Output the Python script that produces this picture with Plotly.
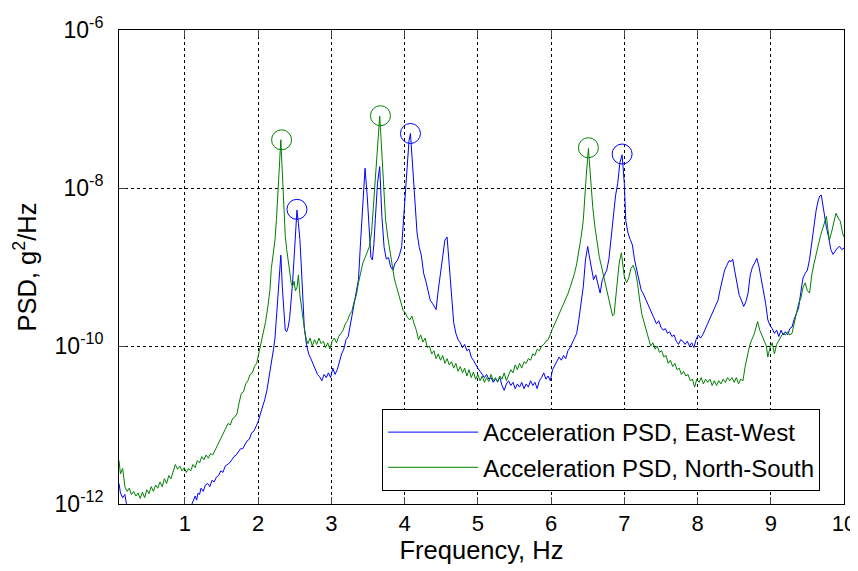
import plotly.graph_objects as go

# ---------------- data (log10 of PSD, g^2/Hz) ----------------
ns_freq = [0.10,0.12,0.15,0.18,0.21,0.24,0.27,0.30,0.33,0.36,0.39,0.42,0.45,0.48,0.51,0.54,0.57,0.60,0.63,0.66,
           0.69,0.72,0.75,0.78,0.81,0.84,0.87,0.90,0.93,0.96,0.99,1.02,1.05,1.08,1.11,1.14,1.17,1.20,1.23,1.26,
           1.29,1.32,1.35,1.38,1.41,1.44,1.47,1.50,1.53,1.56,1.59,1.62,1.65,1.68,1.71,1.74,1.77,1.80,1.83,1.86,
           1.89,1.92,1.95,1.98,2.01,2.04,2.07,2.10,2.13,2.16,2.18,2.20,2.23,2.25,2.27,2.29,2.31,2.33,2.35,2.37,
           2.39,2.41,2.43,2.45,2.47,2.49,2.51,2.53,2.55,2.57,2.60,2.62,2.64,2.66,2.68,2.71,2.74,2.77,2.80,2.83,
           2.86,2.89,2.92,2.95,2.98,3.01,3.04,3.07,3.10,3.13,3.16,3.19,3.22,3.25,3.28,3.31,3.34,3.37,3.40,3.43,
           3.46,3.49,3.52,3.55,3.57,3.59,3.61,3.64,3.66,3.68,3.70,3.72,3.74,3.77,3.80,3.83,3.86,3.89,3.92,3.95,
           3.98,4.01,4.04,4.07,4.10,4.13,4.16,4.19,4.22,4.25,4.28,4.31,4.34,4.37,4.40,4.43,4.46,4.49,4.52,4.55,
           4.58,4.61,4.64,4.67,4.70,4.73,4.76,4.79,4.82,4.85,4.88,4.91,4.94,4.97,5.00,5.03,5.06,5.09,5.12,5.15,
           5.18,5.21,5.24,5.27,5.30,5.33,5.36,5.39,5.42,5.45,5.48,5.51,5.54,5.57,5.60,5.63,5.66,5.69,5.72,5.75,
           5.78,5.81,5.84,5.87,5.90,5.93,5.96,5.99,6.02,6.05,6.08,6.11,6.14,6.17,6.20,6.23,6.26,6.29,6.32,6.35,
           6.38,6.41,6.44,6.46,6.48,6.51,6.53,6.55,6.57,6.60,6.63,6.66,6.69,6.72,6.75,6.78,6.81,6.84,6.86,6.88,
           6.91,6.93,6.96,6.98,7.00,7.03,7.06,7.09,7.12,7.15,7.18,7.21,7.24,7.27,7.30,7.33,7.36,7.39,7.42,7.45,
           7.48,7.51,7.54,7.57,7.60,7.63,7.66,7.69,7.72,7.75,7.78,7.81,7.84,7.87,7.90,7.93,7.96,7.99,8.02,8.05,
           8.08,8.11,8.14,8.17,8.20,8.23,8.26,8.29,8.32,8.35,8.38,8.41,8.44,8.47,8.50,8.53,8.56,8.59,8.62,8.65,
           8.68,8.71,8.74,8.77,8.80,8.82,8.85,8.88,8.91,8.94,8.96,8.99,9.02,9.05,9.08,9.11,9.14,9.17,9.20,9.23,
           9.26,9.29,9.32,9.35,9.38,9.41,9.44,9.47,9.50,9.53,9.56,9.59,9.62,9.65,9.68,9.71,9.74,9.76,9.78,9.80,
           9.83,9.86,9.89,9.92,9.95,9.98,10.00]
ns_log10psd = [-11.45,-11.62,-11.55,-11.78,-11.84,-11.80,-11.88,-11.84,-11.90,-11.86,-11.93,-11.85,-11.92,-11.82,-11.87,-11.78,-11.84,-11.76,-11.80,-11.72,
               -11.78,-11.68,-11.74,-11.64,-11.68,-11.58,-11.50,-11.56,-11.52,-11.58,-11.54,-11.60,-11.55,-11.58,-11.50,-11.54,-11.45,-11.48,-11.40,-11.44,
               -11.38,-11.42,-11.36,-11.38,-11.32,-11.26,-11.22,-11.14,-11.10,-11.04,-10.98,-11.00,-10.92,-10.90,-10.86,-10.72,-10.60,-10.58,-10.48,-10.44,
               -10.36,-10.34,-10.26,-10.22,-10.10,-9.96,-9.86,-9.70,-9.52,-9.30,-9.02,-8.90,-8.66,-8.40,-8.10,-7.80,-7.39,-7.80,-8.20,-8.60,
               -8.78,-8.95,-9.05,-9.20,-9.25,-9.18,-9.30,-9.26,-9.10,-9.35,-9.58,-9.70,-9.84,-9.92,-9.97,-9.90,-10.00,-9.92,-9.98,-9.90,
               -9.97,-9.94,-10.02,-9.96,-10.04,-9.94,-9.90,-9.96,-9.88,-9.84,-9.80,-9.72,-9.68,-9.60,-9.56,-9.44,-9.36,-9.20,-9.08,-8.95,
               -8.88,-8.80,-8.74,-8.55,-8.28,-8.00,-7.65,-7.30,-7.09,-7.40,-7.73,-8.10,-8.40,-8.62,-8.80,-8.98,-9.15,-9.25,-9.36,-9.44,
               -9.55,-9.58,-9.64,-9.67,-9.62,-9.72,-9.80,-9.92,-9.86,-9.95,-9.90,-10.02,-10.00,-10.10,-10.06,-10.16,-10.10,-10.18,-10.12,-10.22,
               -10.16,-10.24,-10.20,-10.28,-10.22,-10.32,-10.26,-10.34,-10.28,-10.38,-10.30,-10.40,-10.33,-10.42,-10.36,-10.44,-10.38,-10.46,-10.40,-10.45,
               -10.36,-10.44,-10.40,-10.46,-10.38,-10.42,-10.34,-10.44,-10.36,-10.30,-10.34,-10.24,-10.30,-10.22,-10.28,-10.20,-10.22,-10.16,-10.18,-10.10,
               -10.12,-10.04,-10.06,-10.00,-9.98,-9.94,-9.92,-9.84,-9.78,-9.72,-9.66,-9.60,-9.54,-9.48,-9.40,-9.34,-9.26,-9.18,-9.08,-8.96,
               -8.80,-8.62,-8.41,-8.10,-7.85,-7.50,-7.80,-8.05,-8.25,-8.50,-8.70,-8.88,-9.00,-9.12,-9.28,-9.40,-9.50,-9.62,-9.60,-9.40,
               -9.10,-8.95,-8.82,-8.95,-9.12,-9.20,-9.14,-9.02,-8.98,-9.05,-9.20,-9.42,-9.60,-9.70,-9.80,-9.90,-10.00,-9.96,-10.04,-10.00,
               -10.08,-10.06,-10.14,-10.12,-10.22,-10.18,-10.26,-10.22,-10.30,-10.28,-10.36,-10.32,-10.38,-10.36,-10.44,-10.42,-10.52,-10.42,-10.46,-10.40,
               -10.48,-10.42,-10.46,-10.42,-10.50,-10.44,-10.50,-10.44,-10.48,-10.42,-10.46,-10.40,-10.44,-10.40,-10.46,-10.40,-10.48,-10.42,-10.44,-10.26,
               -10.12,-10.00,-9.92,-9.86,-9.76,-9.69,-9.80,-9.86,-9.94,-10.00,-10.14,-10.02,-9.96,-10.10,-9.98,-9.92,-9.88,-9.84,-9.86,-9.82,
               -9.86,-9.84,-9.70,-9.58,-9.46,-9.40,-9.26,-9.20,-9.30,-9.33,-9.10,-8.96,-8.82,-8.72,-8.60,-8.50,-8.40,-8.36,-8.52,-8.66,
               -8.56,-8.44,-8.32,-8.38,-8.42,-8.57,-8.62]

ew_freq = [0.10,0.12,0.15,0.18,0.20,0.23,0.30,0.40,0.50,0.60,0.70,0.80,0.90,1.00,1.06,1.10,1.12,1.14,1.16,1.18,
           1.20,1.22,1.25,1.28,1.31,1.34,1.37,1.40,1.43,1.46,1.49,1.52,1.55,1.58,1.61,1.64,1.67,1.70,1.73,1.76,
           1.79,1.82,1.85,1.88,1.91,1.94,1.97,2.00,2.03,2.06,2.09,2.12,2.15,2.18,2.21,2.23,2.25,2.27,2.29,2.31,
           2.33,2.35,2.37,2.39,2.41,2.43,2.45,2.47,2.49,2.51,2.53,2.55,2.57,2.59,2.61,2.63,2.66,2.69,2.72,2.75,
           2.78,2.81,2.84,2.87,2.90,2.93,2.96,2.99,3.02,3.05,3.08,3.11,3.14,3.17,3.20,3.23,3.26,3.29,3.32,3.35,
           3.37,3.40,3.43,3.46,3.49,3.52,3.54,3.56,3.58,3.60,3.63,3.66,3.69,3.72,3.75,3.78,3.81,3.84,3.87,3.90,
           3.93,3.96,3.98,4.00,4.03,4.06,4.08,4.10,4.12,4.14,4.17,4.20,4.23,4.26,4.29,4.32,4.35,4.38,4.41,4.43,
           4.46,4.49,4.52,4.55,4.58,4.61,4.64,4.67,4.70,4.73,4.76,4.79,4.82,4.85,4.88,4.91,4.94,4.97,5.00,5.03,
           5.06,5.09,5.12,5.15,5.18,5.21,5.24,5.27,5.30,5.33,5.36,5.39,5.42,5.45,5.48,5.51,5.54,5.57,5.60,5.63,
           5.66,5.69,5.72,5.75,5.78,5.81,5.84,5.87,5.90,5.93,5.96,5.99,6.02,6.05,6.08,6.11,6.14,6.17,6.20,6.23,
           6.26,6.29,6.32,6.35,6.38,6.41,6.44,6.47,6.50,6.52,6.55,6.58,6.61,6.64,6.67,6.70,6.73,6.76,6.79,6.82,
           6.85,6.88,6.91,6.94,6.97,7.00,7.02,7.05,7.08,7.11,7.14,7.17,7.20,7.23,7.26,7.29,7.32,7.35,7.38,7.41,
           7.44,7.47,7.50,7.53,7.56,7.59,7.62,7.65,7.68,7.71,7.74,7.77,7.80,7.83,7.86,7.89,7.92,7.95,7.98,8.01,
           8.04,8.07,8.10,8.13,8.16,8.19,8.22,8.25,8.28,8.31,8.34,8.37,8.40,8.43,8.46,8.48,8.51,8.54,8.57,8.60,
           8.63,8.66,8.69,8.72,8.75,8.78,8.81,8.84,8.87,8.90,8.93,8.96,8.99,9.02,9.05,9.08,9.11,9.14,9.17,9.20,
           9.23,9.26,9.29,9.32,9.35,9.38,9.41,9.44,9.47,9.50,9.53,9.56,9.59,9.62,9.65,9.67,9.69,9.71,9.73,9.76,
           9.79,9.82,9.85,9.88,9.91,9.94,9.97,10.00]
ew_log10psd = [-11.74,-11.86,-11.92,-11.88,-11.99,-12.10,-12.20,-12.25,-12.30,-12.30,-12.28,-12.25,-12.20,-12.15,-12.08,-12.00,-11.96,-11.90,-11.95,-11.86,
               -11.88,-11.80,-11.84,-11.76,-11.74,-11.78,-11.70,-11.72,-11.66,-11.64,-11.58,-11.60,-11.52,-11.50,-11.48,-11.44,-11.40,-11.38,-11.34,-11.30,
               -11.30,-11.24,-11.20,-11.18,-11.10,-11.08,-11.02,-10.96,-10.86,-10.78,-10.68,-10.56,-10.40,-10.22,-10.04,-9.90,-9.62,-9.30,-9.00,-8.85,
               -9.25,-9.55,-9.80,-9.82,-9.76,-9.65,-9.45,-9.20,-8.90,-8.50,-8.28,-8.45,-8.65,-9.00,-9.45,-9.76,-9.98,-10.10,-10.16,-10.22,
               -10.30,-10.36,-10.39,-10.44,-10.36,-10.40,-10.34,-10.40,-10.28,-10.36,-10.30,-10.18,-10.10,-10.04,-9.92,-9.88,-9.72,-9.56,-9.42,-9.28,
               -9.16,-8.66,-8.15,-7.75,-8.11,-8.66,-8.88,-8.91,-8.72,-8.40,-7.94,-7.73,-8.36,-8.75,-8.90,-8.88,-9.00,-9.04,-8.95,-8.92,
               -8.85,-8.74,-8.45,-8.15,-7.73,-7.40,-7.31,-7.55,-7.90,-8.15,-8.57,-8.75,-8.86,-9.08,-9.18,-9.30,-9.42,-9.46,-9.52,-9.54,
               -9.29,-9.10,-8.90,-8.66,-8.62,-9.00,-9.35,-9.70,-9.84,-9.92,-9.96,-10.02,-9.98,-10.06,-10.04,-10.14,-10.18,-10.24,-10.28,-10.32,
               -10.36,-10.40,-10.36,-10.42,-10.40,-10.46,-10.42,-10.44,-10.40,-10.50,-10.56,-10.48,-10.44,-10.50,-10.46,-10.54,-10.48,-10.52,-10.46,-10.54,
               -10.48,-10.52,-10.44,-10.50,-10.46,-10.54,-10.44,-10.40,-10.34,-10.42,-10.38,-10.44,-10.30,-10.24,-10.20,-10.14,-10.18,-10.12,-10.16,-10.06,
               -10.02,-9.96,-9.90,-9.84,-9.66,-9.45,-9.25,-8.91,-8.74,-8.85,-9.00,-9.16,-9.10,-9.22,-9.33,-9.16,-9.10,-9.04,-8.90,-8.60,
               -8.30,-8.10,-7.94,-7.68,-7.58,-7.94,-8.41,-8.57,-8.65,-8.72,-8.91,-9.05,-9.18,-9.29,-9.34,-9.40,-9.48,-9.54,-9.60,-9.64,
               -9.72,-9.68,-9.76,-9.80,-9.78,-9.84,-9.82,-9.88,-9.86,-9.94,-9.98,-9.92,-9.94,-9.98,-9.94,-10.00,-9.96,-10.02,-9.92,-9.86,
               -9.90,-9.86,-9.80,-9.72,-9.68,-9.62,-9.56,-9.48,-9.42,-9.28,-9.16,-9.04,-8.98,-8.92,-8.93,-8.90,-9.06,-9.20,-9.36,-9.42,
               -9.50,-9.44,-9.33,-9.10,-9.00,-8.95,-8.89,-9.00,-9.14,-9.29,-9.46,-9.67,-9.74,-9.78,-9.84,-9.80,-9.88,-9.80,-9.86,-9.82,
               -9.86,-9.78,-9.76,-9.66,-9.60,-9.52,-9.32,-9.14,-9.08,-9.04,-8.90,-8.70,-8.48,-8.28,-8.15,-8.10,-8.09,-8.20,-8.36,-8.50,
               -8.62,-8.78,-8.84,-8.80,-8.76,-8.74,-8.78,-8.76]

# peak markers
ew_peak_freq = [2.53, 4.08, 6.97]
ew_peak_log10psd = [-8.27, -7.31, -7.57]
ns_peak_freq = [2.32, 3.67, 6.51]
ns_peak_log10psd = [-7.39, -7.085, -7.49]

y_tickvals_exp = [-12, -10, -8, -6]
x_tickvals = [1, 2, 3, 4, 5, 6, 7, 8, 9, 10]

legend_ew = "Acceleration PSD, East-West"
legend_ns = "Acceleration PSD, North-South"

BLUE = "#0000FF"
GREEN = "#008000"
FONT = "Liberation Sans, Arial, sans-serif"

fig = go.Figure()
fig.add_trace(go.Scatter(x=ew_freq, y=[10 ** v for v in ew_log10psd], mode="lines",
                         line=dict(color=BLUE, width=1), name=legend_ew, legendgroup="a"))
fig.add_trace(go.Scatter(x=ns_freq, y=[10 ** v for v in ns_log10psd], mode="lines",
                         line=dict(color=GREEN, width=1), name=legend_ns, legendgroup="b"))
fig.add_trace(go.Scatter(x=ew_peak_freq, y=[10 ** v for v in ew_peak_log10psd], mode="markers",
                         marker=dict(symbol="circle-open", size=20, color=BLUE, line=dict(width=1)),
                         showlegend=False))
fig.add_trace(go.Scatter(x=ns_peak_freq, y=[10 ** v for v in ns_peak_log10psd], mode="markers",
                         marker=dict(symbol="circle-open", size=20, color=GREEN, line=dict(width=1)),
                         showlegend=False))

# the page body has an 8px default margin, so the figure is sized to the visible area
fig.update_layout(
    width=850, height=563,
    margin=dict(l=111, r=14, t=22, b=67),
    paper_bgcolor="white", plot_bgcolor="white",
    font=dict(family=FONT, size=20, color="black"),
    legend=dict(x=0.363, y=0.0274, xanchor="left", yanchor="bottom",
                bordercolor="black", borderwidth=1, bgcolor="white",
                font=dict(size=24), itemwidth=90, tracegroupgap=1),
    xaxis=dict(range=[0.1, 10], tickvals=x_tickvals, ticks="inside", ticklen=7,
               showline=True, linecolor="black", linewidth=1, mirror="ticks",
               showgrid=True, gridcolor="black", griddash="dot", gridwidth=1,
               zeroline=False, tickfont=dict(size=22), automargin=False,
               ticklabelstandoff=0,
               title=dict(text="Frequency, Hz", font=dict(size=25.5), standoff=3)),
    yaxis=dict(type="log", range=[-12, -6], tickvals=[10 ** e for e in y_tickvals_exp],
               ticktext=["10<sup>%d</sup>" % e for e in y_tickvals_exp],
               ticks="inside", ticklen=7,
               showline=True, linecolor="black", linewidth=1, mirror="ticks",
               showgrid=True, gridcolor="black", griddash="dot", gridwidth=1,
               zeroline=False, tickfont=dict(size=23), automargin=False,
               ticklabelstandoff=10,
               title=dict(text="PSD, g<sup>2</sup>/Hz", font=dict(size=25.5), standoff=10)),
)

fig.write_html("out.html")
